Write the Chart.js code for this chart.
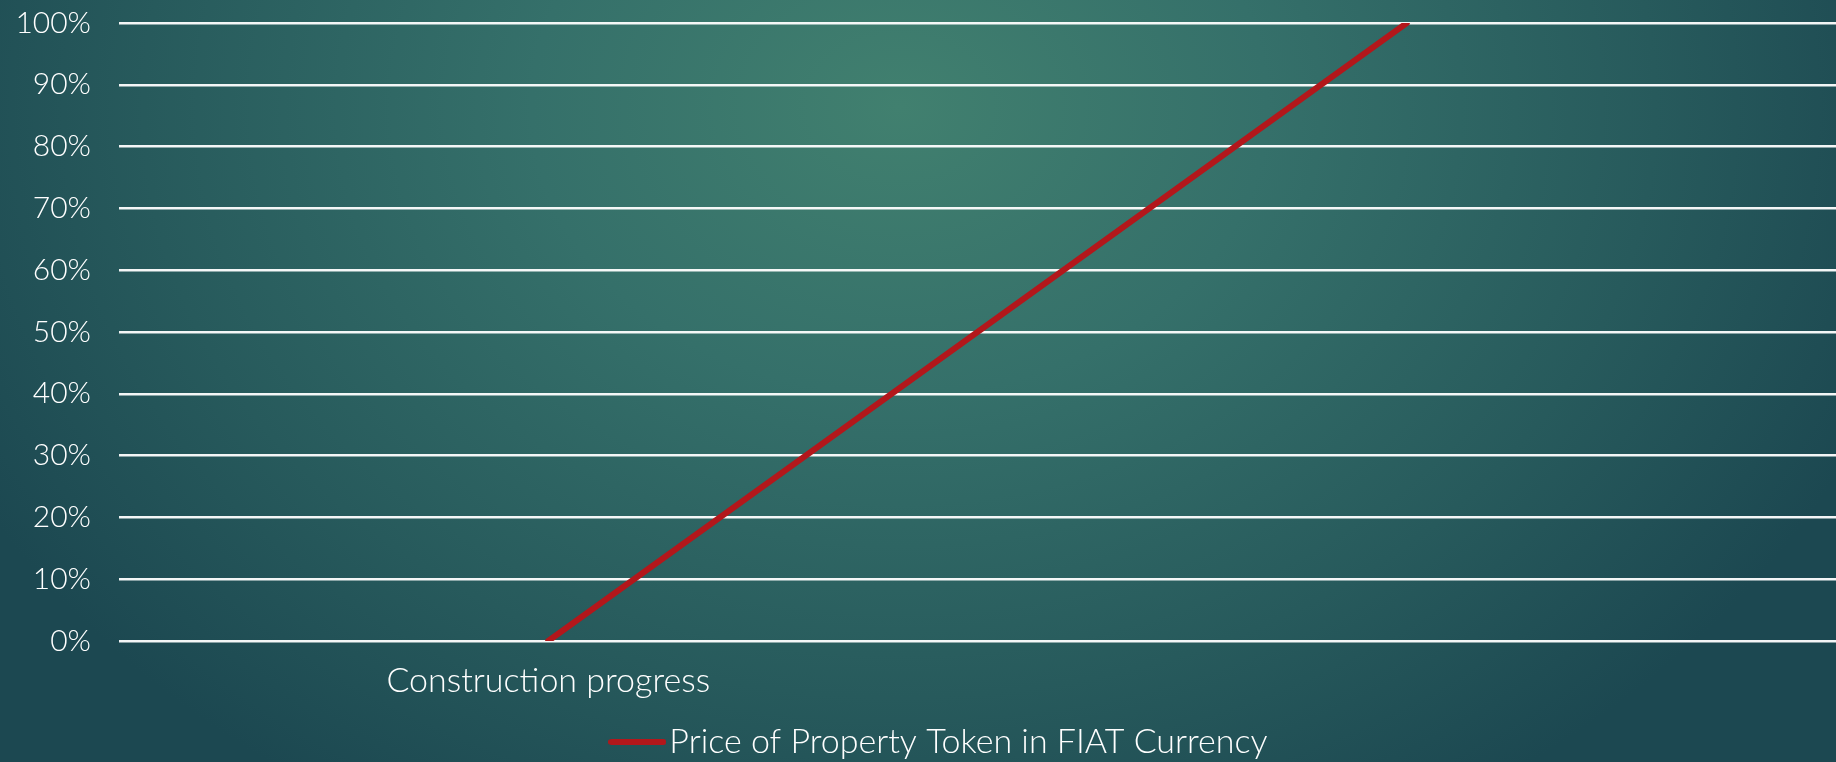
<!DOCTYPE html>
<html>
<head>
<meta charset="utf-8">
<script src="https://cdn.jsdelivr.net/npm/chart.js@4/dist/chart.umd.min.js"></script>
<style>
  html, body { margin: 0; padding: 0; }
  body {
    width: 1836px; height: 762px; overflow: hidden;
    background: radial-gradient(ellipse 1050px 820px at 49% 14%, #41806f 0%, #35706a 35%, #275a5c 72%, #1c4851 100%);
  }
  #wrap { position: absolute; left: 0; top: 0; width: 1836px; height: 762px; }
</style>
</head>
<body>
<div id="wrap"><canvas id="c" width="1836" height="762"></canvas></div>
<script>
const categories = ['Construction progress', ''];
const seriesName = 'Price of Property Token in FIAT Currency';
const seriesValues = [0, 1];
const yTickValues = [0, 0.1, 0.2, 0.3, 0.4, 0.5, 0.6, 0.7, 0.8, 0.9, 1];

const FONT = 'Lato, "Open Sans", sans-serif';
const WHITE = '#ffffff';
const RED = '#b3171b';

// legend swatch: a short thick red line
const swatch = document.createElement('canvas');
swatch.width = 58; swatch.height = 6;
(function () {
  const g = swatch.getContext('2d');
  g.fillStyle = RED;
  g.beginPath();
  g.moveTo(3, 0); g.lineTo(55, 0); g.arc(55, 3, 3, -Math.PI / 2, Math.PI / 2);
  g.lineTo(3, 6); g.arc(3, 3, 3, Math.PI / 2, Math.PI * 1.5);
  g.fill();
})();

const legendShift = {
  id: 'legendShift',
  afterLayout(chart) {
    const lg = chart.legend;
    if (!lg) return;
    lg.left += 27; lg.right += 27;
    lg.top += 7; lg.bottom += 7;
  }
};

new Chart(document.getElementById('c'), {
  type: 'line',
  data: {
    labels: categories,
    datasets: [{
      label: seriesName,
      data: seriesValues,
      borderColor: RED,
      backgroundColor: RED,
      borderWidth: 6,
      borderCapStyle: 'round',
      pointRadius: 0,
      pointHoverRadius: 0,
      tension: 0,
      fill: false
    }]
  },
  options: {
    responsive: false,
    animation: false,
    events: [],
    layout: { padding: { top: 0, right: 0, bottom: 0, left: 0 } },
    scales: {
      x: {
        type: 'category',
        offset: true,
        afterFit(scale) { scale.height = 77; },
        grid: { display: false, drawTicks: false },
        border: { display: false },
        ticks: { color: WHITE, font: { family: FONT, size: 34, weight: '300' }, padding: 20, maxRotation: 0, autoSkip: false }
      },
      y: {
        min: 0, max: 1,
        afterFit(scale) { scale.width = 119; },
        afterBuildTicks(scale) { scale.ticks = yTickValues.map(v => ({ value: v })); },
        grid: { color: 'rgba(255,255,255,0.95)', lineWidth: 2.5, drawTicks: true, tickLength: 23, tickColor: 'rgba(0,0,0,0)' },
        border: { display: false },
        ticks: {
          color: WHITE,
          font: { family: FONT, size: 30, weight: '300' },
          padding: 5,
          callback: v => Math.round(v * 100) + '%'
        }
      }
    },
    plugins: {
      legend: {
        position: 'bottom',
        align: 'center',
        labels: {
          color: WHITE,
          font: { family: FONT, size: 34, weight: '300' },
          usePointStyle: true,
          pointStyle: swatch,
          pointStyleWidth: 30,
          padding: 0
        }
      },
      tooltip: { enabled: false }
    }
  },
  plugins: [legendShift]
});
</script>
</body>
</html>
